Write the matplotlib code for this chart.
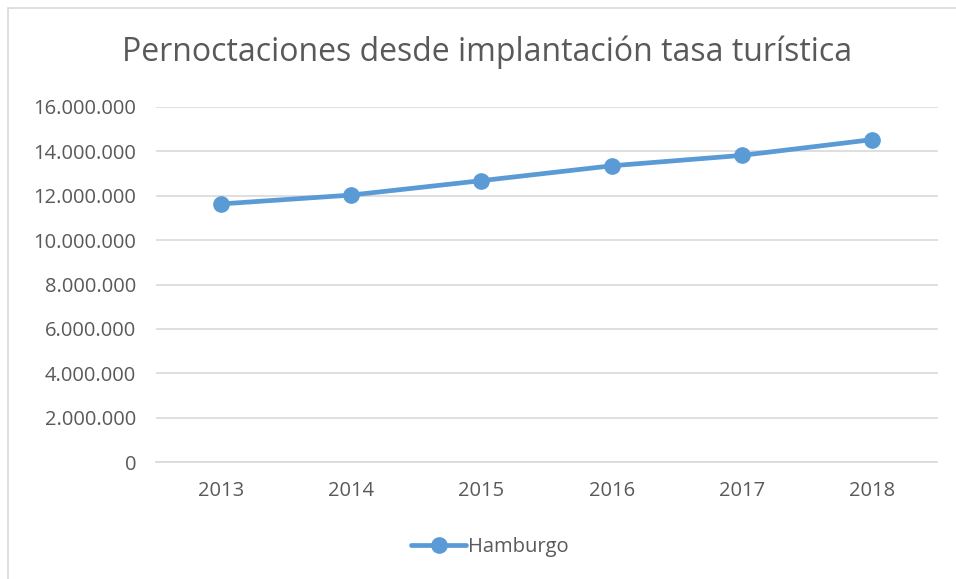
import matplotlib
matplotlib.use('Agg')
import matplotlib.pyplot as plt
from matplotlib.patches import Rectangle
from matplotlib.ticker import FuncFormatter

# Data
years = ['2013', '2014', '2015', '2016', '2017', '2018']
hamburgo = [11630000, 12030000, 12680000, 13350000, 13820000, 14530000]
y_ticks = [0, 2000000, 4000000, 6000000, 8000000, 10000000, 12000000, 14000000, 16000000]

text_color = '#595959'
line_color = '#5B9BD5'
grid_color = '#D9D9D9'

plt.rcParams['font.family'] = ['Open Sans', 'DejaVu Sans']

fig = plt.figure(figsize=(9.56, 5.79), dpi=100)
ax = fig.add_axes([155.5 / 956, 1 - 462 / 579, 782 / 956, 355 / 579])

x = range(len(years))
ax.plot(x, hamburgo, color=line_color, linewidth=3.4, marker='o', markersize=11,
        solid_capstyle='round', label='Hamburgo')

ax.set_xlim(-0.5, len(years) - 0.5)
ax.set_ylim(0, 16000000)
ax.set_xticks(list(x))
ax.set_xticklabels(years)
ax.set_yticks(y_ticks)
ax.yaxis.set_major_formatter(FuncFormatter(lambda v, p: f'{int(v):,}'.replace(',', '.')))

ax.tick_params(axis='both', length=0, labelsize=14.5, colors=text_color)
ax.tick_params(axis='y', pad=14)
ax.tick_params(axis='x', pad=14)
ax.grid(axis='y', color=grid_color, linewidth=1.2)
ax.set_axisbelow(True)
for side in ['top', 'right', 'left']:
    ax.spines[side].set_visible(False)
ax.spines['bottom'].set_color(grid_color)
ax.spines['bottom'].set_linewidth(1.2)

fig.text(487 / 956, 1 - 52 / 579, 'Pernoctaciones desde implantación tasa turística',
         ha='center', va='center', fontsize=23, color=text_color)

leg = fig.legend(loc='center', bbox_to_anchor=(490 / 956, 1 - 547 / 579), frameon=False,
                 fontsize=14.5, handlelength=2.7, handletextpad=0.1)
for t in leg.get_texts():
    t.set_color(text_color)

# chart border
fig.patches.append(Rectangle((7.5 / 956, -0.1), 1.2, 1.1 - 8.5 / 579,
                             transform=fig.transFigure, fill=False,
                             edgecolor='#D9D9D9', linewidth=1.2))

fig.savefig('out.png', dpi=100)
